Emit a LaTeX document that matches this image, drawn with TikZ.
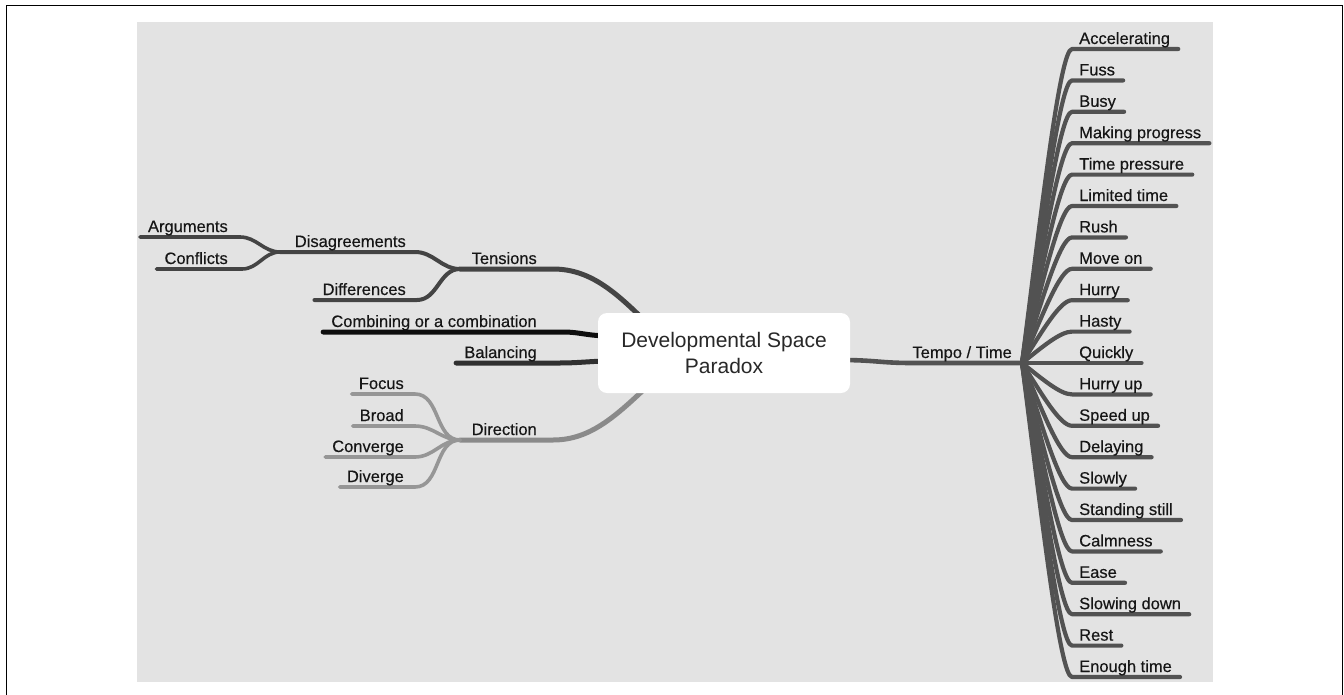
\documentclass[tikz,border=0pt]{standalone}
\usepackage{fontspec}
\setmainfont{Liberation Sans}
\newfontfamily\lblfont[FakeBold=0.35]{Liberation Sans}
\usetikzlibrary{calc,backgrounds}
\pgfdeclarelayer{back}
\pgfsetlayers{back,background,main}
\definecolor{bggray}{RGB}{227,227,227}
\definecolor{labelcol}{RGB}{22,22,22}
\definecolor{centercol}{RGB}{40,40,40}
\definecolor{rcol}{RGB}{82,82,82}
\definecolor{tcol}{RGB}{68,68,68}
\definecolor{ccol}{RGB}{14,14,14}
\definecolor{bcol}{RGB}{48,48,48}
\definecolor{dcol}{RGB}{138,138,138}
\definecolor{dccol}{RGB}{150,150,150}
\begin{document}
\begin{tikzpicture}[x=1pt,y=-1pt,
  lbl/.style={font=\lblfont\fontsize{16.5}{20}\selectfont, inner sep=0pt, text=labelcol},
  centerbox/.style={fill=white, rounded corners=9pt, minimum width=252pt, minimum height=80pt,
     align=center, inner sep=0pt, text=centercol, font=\fontsize{21}{26}\selectfont},
  conn/.style={line cap=round, line join=round},
  rline/.style={conn, draw=rcol, line width=4.2pt},
  tline/.style={conn, draw=tcol, line width=4pt},
  dline/.style={conn, draw=dccol, line width=3.6pt},
]
\useasboundingbox (0,0) rectangle (1344,694);
% frame and background
\begin{pgfonlayer}{back}
  \fill[bggray] (137,22) rectangle (1213,682);
  \draw[black, line width=1.6pt] (6.5,700) -- (6.5,5.5) -- (1342.5,5.5) -- (1342.5,700);
\end{pgfonlayer}

% centre
\node[centerbox] (c) at (724,353) {Developmental Space\\Paradox};

% left labels (right aligned)
\node[lbl, anchor=base east] (arg) at (228,232) {Arguments};
\node[lbl, anchor=base east] (con) at (228,264) {Conflicts};
\node[lbl, anchor=base east] (dis) at (406,247) {Disagreements};
\node[lbl, anchor=base east] (dif) at (406,295) {Differences};
\node[lbl, anchor=base east] (ten) at (537,264) {Tensions};
\node[lbl, anchor=base east] (com) at (537,327) {Combining or a combination};
\node[lbl, anchor=base east] (bal) at (537,358) {Balancing};
\node[lbl, anchor=base east] (dir) at (537,435) {Direction};
\node[lbl, anchor=base east] (foc) at (404,389) {Focus};
\node[lbl, anchor=base east] (bro) at (404,421) {Broad};
\node[lbl, anchor=base east] (cvg) at (404,452) {Converge};
\node[lbl, anchor=base east] (dvg) at (404,482) {Diverge};

% right side
\node[lbl, anchor=base east] (tem) at (1012,358) {Tempo / Time};
\coordinate (jt) at (1022,363);
\foreach \nm/\yy/\tx in {
  r0/49/Accelerating, r1/80.4/Fuss, r2/111.8/Busy, r3/143.2/Making progress,
  r4/174.6/Time pressure, r5/206/Limited time, r6/237.4/Rush, r7/268.8/Move on,
  r8/300.2/Hurry, r9/331.6/Hasty, r10/363/Quickly, r11/394.4/Hurry up,
  r12/425.8/Speed up, r13/457.2/Delaying, r14/488.6/Slowly, r15/520/Standing still,
  r16/551.4/Calmness, r17/582.8/Ease, r18/614.2/Slowing down, r19/645.6/Rest,
  r20/677/Enough time}{
  \node[lbl, anchor=base west] (\nm) at (1079,\yy-5) {\tx};
}

% junctions and box attachment points
\coordinate (jT) at (460,269);
\coordinate (jD) at (280,252);
\coordinate (jR) at (460,440);
\coordinate (cT) at (654,330);
\coordinate (cC) at (612,336);
\coordinate (cB) at (612,361);
\coordinate (cD) at (654,380);
\coordinate (cR) at (840,360);

\begin{pgfonlayer}{background}
  % Tensions group
  \draw[tline, line width=5pt] (jT) -- ($(ten.base east)+(16,5)$)
      .. controls (592,269) and (618,294) .. (cT);
  \draw[tline] (jD) -- ($(dis.base east)+(9,5)$) to[out=0,in=180] (jT);
  \draw[tline] ($(dif.base west)+(-8,5)$) -- ($(dif.base east)+(11,5)$) to[out=0,in=180] (jT);
  \draw[tline, line width=3.6pt] ($(arg.base west)+(-8,5)$) -- ($(arg.base east)+(12,5)$) to[out=0,in=180] (jD);
  \draw[tline, line width=3.6pt] ($(con.base west)+(-8,5)$) -- ($(con.base east)+(14,5)$) to[out=0,in=180] (jD);
  % Combining
  \draw[conn, draw=ccol, line width=5pt] ($(com.base west)+(-8,5)$) -- ($(com.base east)+(26,5)$)
      .. controls +(18,0) and (586,336) .. (cC);
  % Balancing
  \draw[conn, draw=bcol, line width=5pt] ($(bal.base west)+(-8,5)$) -- ($(bal.base east)+(22,5)$)
      to[out=0,in=180] (cB);
  % Direction group
  \draw[conn, draw=dcol, line width=5pt] (jR) -- ($(dir.base east)+(16,5)$)
      .. controls (592,440) and (618,414) .. (cD);
  \foreach \nm in {foc,bro,cvg,dvg}{
    \draw[dline] ($(\nm.base west)+(-7,5)$) -- ($(\nm.base east)+(11,5)$) to[out=0,in=180] (jR);
  }
  % Tempo
  \draw[rline, line width=4.6pt] (cR) .. controls (875,360) and (880,363) .. ($(tem.base west)+(0,5)$) -- (jt);
  \foreach \nm/\yy in {r0/49, r1/80.4, r2/111.8, r3/143.2, r4/174.6, r5/206, r6/237.4,
     r7/268.8, r8/300.2, r9/331.6, r10/363, r11/394.4, r12/425.8, r13/457.2, r14/488.6,
     r15/520, r16/551.4, r17/582.8, r18/614.2, r19/645.6, r20/677}{
    \draw[rline] (jt) .. controls (1042,{(363+\yy)/2}) and (1060,\yy) .. ($(\nm.base west)+(-7,5)$)
        -- ($(\nm.base east)+(8,5)$);
  }
\end{pgfonlayer}
\end{tikzpicture}
\end{document}
